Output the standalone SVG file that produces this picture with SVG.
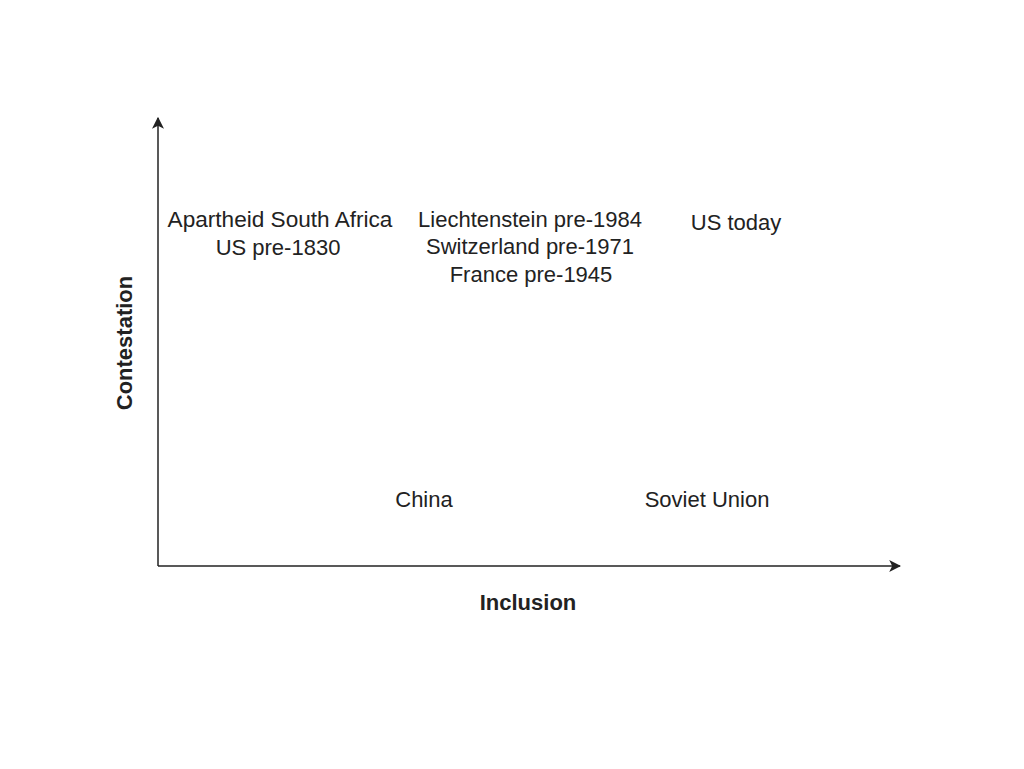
<svg xmlns="http://www.w3.org/2000/svg" width="1024" height="769" viewBox="0 0 1024 769">
<style>
.l{font-family:"Liberation Sans",Arial,sans-serif;font-size:22px;fill:#222;text-anchor:middle}
.b{font-family:"Liberation Sans",Arial,sans-serif;font-size:22px;font-weight:bold;fill:#222;text-anchor:middle}
.ax{stroke:#222;stroke-width:1.5;fill:none}
</style>
<defs>
<marker id="ah" viewBox="0 0 10 10" refX="9" refY="5" markerWidth="12" markerHeight="12" markerUnits="userSpaceOnUse" orient="auto">
<path d="M0,0 L10,5 L0,10 L2.5,5 Z" fill="#222"/>
</marker>
</defs>
<g id="connectors">
<line class="ax" x1="158" y1="566" x2="158" y2="118" marker-end="url(#ah)"/>
<line class="ax" x1="158" y1="566" x2="900" y2="566" marker-end="url(#ah)"/>
</g>
<g id="axis-y"><text class="b" transform="translate(132,343) rotate(-90)">Contestation</text></g>
<g id="axis-x"><text class="b" x="528" y="610">Inclusion</text></g>
<g id="node-apartheid">
<text class="l" x="280" y="227" style="font-size:22.6px">Apartheid South Africa</text>
<text class="l" x="278" y="255">US pre-1830</text>
</g>
<g id="node-liechtenstein">
<text class="l" x="530" y="227">Liechtenstein pre-1984</text>
<text class="l" x="530" y="254">Switzerland pre-1971</text>
<text class="l" x="531" y="282">France pre-1945</text>
</g>
<g id="node-ustoday"><text class="l" x="736" y="230">US today</text></g>
<g id="node-china"><text class="l" x="424" y="507">China</text></g>
<g id="node-soviet"><text class="l" x="707" y="507">Soviet Union</text></g>
</svg>
